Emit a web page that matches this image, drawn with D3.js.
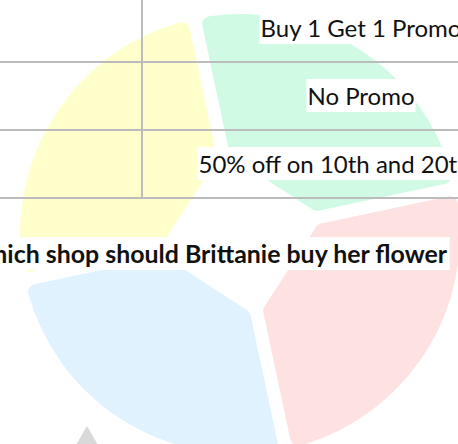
<!DOCTYPE html>
<html>
<head>
<meta charset="utf-8">
<script src="https://cdn.jsdelivr.net/npm/d3@7"></script>
<style>
html, body { margin: 0; padding: 0; background: #fff; overflow: hidden; }
svg { display: block; }
.cell { font-family: Lato, "Open Sans", sans-serif; font-size: 24px; fill: #111; }
.title { font-family: Lato, "Open Sans", sans-serif; font-size: 24.9px; font-weight: bold; fill: #111; }
</style>
</head>
<body>
<svg id="chart-svg" width="458" height="444"></svg>
<script>
// watermark quarters, clockwise starting with the top right one
const petalNames = ['green', 'red', 'blue', 'yellow'];
const petalShares = [1, 1, 1, 1];
const petalColors = ['#d1fae5', '#fee2e2', '#e0f2fe', '#ffffcc'];

// table contents
const promos = ['Buy 1 Get 1 Promo', 'No Promo', '50% off on 10th and 20th item'];
const rowIndex = [0, 1, 2, 3];
const title = 'Which shop should Brittanie buy her flower';

const width = 458, height = 444;
const svg = d3.select('#chart-svg');

// ---------- watermark ----------
const cx = 240, cy = 234;
const outerR = 220, gapHalf = 6.5, innerD = 60, corner = 8;

const pie = d3.pie().sort(null)
    .startAngle(-12 * Math.PI / 180)
    .endAngle(348 * Math.PI / 180);

function petalPath(d) {
    // shape is drawn inset by the corner radius, a round stroke puts it back
    const R = outerR - corner, g = gapHalf + corner, di = innerD + corner;
    const h = (d.endAngle - d.startAngle) / 2;
    const b = (d.startAngle + d.endAngle) / 2;
    const t = Math.tan(h), m = g / Math.cos(h);
    const ux = Math.sin(b), uy = -Math.cos(b), wx = Math.cos(b), wy = Math.sin(b);
    const pt = (x, y) => [cx + x * ux + y * wx, cy + x * uy + y * wy];

    const yc = t * di - m;
    const xo = (t * m + Math.sqrt(t * t * m * m - (1 + t * t) * (m * m - R * R))) / (1 + t * t);
    const yo = t * xo - m;
    const phi = Math.atan2(yo, xo);
    const base = b - Math.PI / 2;

    const p = d3.path();
    const a = pt(di, -yc), c = pt(di, yc), o = pt(xo, yo);
    p.moveTo(a[0], a[1]);
    p.lineTo(c[0], c[1]);
    p.lineTo(o[0], o[1]);
    p.arc(cx, cy, R, base + phi, base - phi, true);
    p.closePath();
    return p.toString();
}

svg.append('g').attr('id', 'watermark')
    .selectAll('path')
    .data(pie(petalShares))
    .join('path')
    .attr('class', (d, i) => 'petal ' + petalNames[i])
    .attr('d', petalPath)
    .attr('fill', (d, i) => petalColors[i])
    .attr('stroke', (d, i) => petalColors[i])
    .attr('stroke-width', corner * 2)
    .attr('stroke-linejoin', 'round');

svg.append('path')
    .attr('d', d3.symbol().type(d3.symbolTriangle).size(1560)())
    .attr('transform', 'translate(87,460.6)')
    .attr('fill', '#d9d9d9');

// ---------- table ----------
const yRow = d3.scaleLinear().domain([0, 3]).range([-6, 198]);
const colSplit = 142, colRight = 580;
const colMid = (colSplit + colRight) / 2;

let grid = svg.append('g').attr('id', 'grid');

grid.selectAll('.hline')
    .data(rowIndex.slice(1))
    .join('line')
    .attr('class', 'hline')
    .attr('x1', 0).attr('x2', width)
    .attr('y1', d => yRow(d)).attr('y2', d => yRow(d))
    .attr('stroke', '#bcbcbc').attr('stroke-width', 2);

grid.append('line')
    .attr('x1', colSplit).attr('x2', colSplit)
    .attr('y1', 0).attr('y2', yRow(3))
    .attr('stroke', '#bcbcbc').attr('stroke-width', 2);

let cells = svg.append('g').attr('id', 'cells');

promos.forEach((txt, i) => {
    let g = cells.append('g');
    let base = yRow(i + 1) - 25;
    let box = g.append('rect').attr('fill', '#fff');
    let label = g.append('text')
        .attr('class', 'cell')
        .attr('x', colMid)
        .attr('y', base)
        .attr('text-anchor', 'middle')
        .text(txt);
    let bb = label.node().getBBox();
    box.attr('x', bb.x - 1).attr('width', bb.width + 2)
        .attr('y', base - 26).attr('height', 33);
});

// title line under the table
let tg = svg.append('g').attr('id', 'title');
let tbox = tg.append('rect').attr('fill', '#fff');
let tText = tg.append('text')
    .attr('class', 'title')
    .attr('x', 447)
    .attr('y', 263)
    .attr('text-anchor', 'end')
    .text(title);
let tb = tText.node().getBBox();
tbox.attr('x', tb.x - 2).attr('width', tb.width + 4)
    .attr('y', 237).attr('height', 33);
</script>
</body>
</html>
